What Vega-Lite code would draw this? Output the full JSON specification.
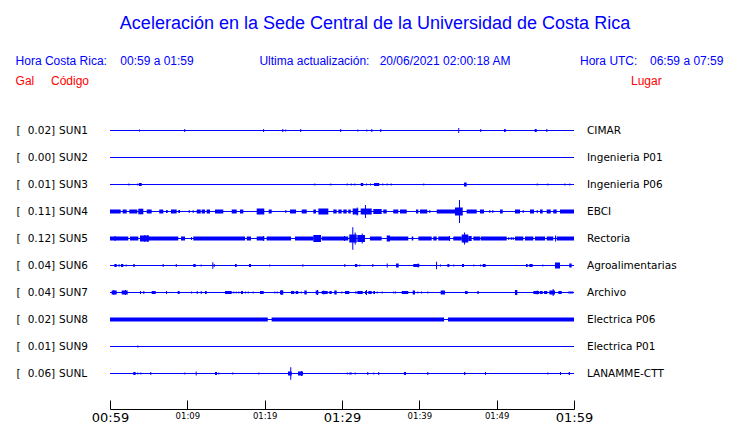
{
 "$schema": "https://vega.github.io/schema/vega-lite/v6.json",
 "width": 464,
 "height": 270,
 "autosize": {"type": "none"},
 "padding": {"left": 110, "top": 117, "right": 166, "bottom": 36},
 "title": {"text": "Aceleración en la Sede Central de la Universidad de Costa Rica", "font": "Liberation Sans", "fontSize": 18, "fontWeight": "normal", "color": "#0000ff", "anchor": "middle", "dx": 33, "offset": 22},
 "config": {"view": {"stroke": null}},
 "datasets": {
  "stations": [
   {"s": "SUN1", "gal": 0.02, "lugar": "CIMAR"},
   {"s": "SUN2", "gal": 0.00, "lugar": "Ingenieria P01"},
   {"s": "SUN3", "gal": 0.01, "lugar": "Ingenieria P06"},
   {"s": "SUN4", "gal": 0.11, "lugar": "EBCI"},
   {"s": "SUN5", "gal": 0.12, "lugar": "Rectoria"},
   {"s": "SUN6", "gal": 0.04, "lugar": "Agroalimentarias"},
   {"s": "SUN7", "gal": 0.04, "lugar": "Archivo"},
   {"s": "SUN8", "gal": 0.02, "lugar": "Electrica P06"},
   {"s": "SUN9", "gal": 0.01, "lugar": "Electrica P01"},
   {"s": "SUNL", "gal": 0.06, "lugar": "LANAMME-CTT"}
  ],
  "traces": [
   {"s":"SUN1","t0":3.75,"t1":3.88,"amp":0.01},
   {"s":"SUN1","t0":9.6,"t1":9.73,"amp":0.015},
   {"s":"SUN1","t0":19.8,"t1":19.93,"amp":0.015},
   {"s":"SUN1","t0":22.28,"t1":22.41,"amp":0.015},
   {"s":"SUN1","t0":22.65,"t1":22.78,"amp":0.01},
   {"s":"SUN1","t0":24.6,"t1":24.73,"amp":0.015},
   {"s":"SUN1","t0":29.77,"t1":29.9,"amp":0.015},
   {"s":"SUN1","t0":31.98,"t1":32.11,"amp":0.01},
   {"s":"SUN1","t0":33.14,"t1":33.27,"amp":0.01},
   {"s":"SUN1","t0":33.79,"t1":33.92,"amp":0.015},
   {"s":"SUN1","t0":34.95,"t1":35.08,"amp":0.015},
   {"s":"SUN1","t0":45.03,"t1":45.16,"amp":0.025},
   {"s":"SUN1","t0":47.88,"t1":48.01,"amp":0.015},
   {"s":"SUN1","t0":50.95,"t1":51.17,"amp":0.015},
   {"s":"SUN1","t0":54.92,"t1":55.18,"amp":0.015},
   {"s":"SUN1","t0":56.42,"t1":56.55,"amp":0.015},

   {"s":"SUN3","t0":2.37,"t1":2.5,"amp":0.01},
   {"s":"SUN3","t0":3.53,"t1":3.66,"amp":0.01},
   {"s":"SUN3","t0":3.75,"t1":4.1,"amp":0.015},
   {"s":"SUN3","t0":26.42,"t1":26.55,"amp":0.01},
   {"s":"SUN3","t0":28.49,"t1":28.62,"amp":0.01},
   {"s":"SUN3","t0":30.61,"t1":30.74,"amp":0.01},
   {"s":"SUN3","t0":31.13,"t1":31.26,"amp":0.01},
   {"s":"SUN3","t0":31.59,"t1":31.72,"amp":0.01},
   {"s":"SUN3","t0":32.42,"t1":32.75,"amp":0.015},
   {"s":"SUN3","t0":33.1,"t1":33.23,"amp":0.01},
   {"s":"SUN3","t0":33.62,"t1":33.75,"amp":0.01},
   {"s":"SUN3","t0":34.14,"t1":34.82,"amp":0.015},
   {"s":"SUN3","t0":35.21,"t1":35.34,"amp":0.01},
   {"s":"SUN3","t0":35.78,"t1":35.91,"amp":0.01},
   {"s":"SUN3","t0":36.3,"t1":36.43,"amp":0.01},
   {"s":"SUN3","t0":40.51,"t1":40.64,"amp":0.01},
   {"s":"SUN3","t0":45.78,"t1":46.12,"amp":0.02},
   {"s":"SUN3","t0":55.18,"t1":55.31,"amp":0.01},
   {"s":"SUN3","t0":56.55,"t1":56.68,"amp":0.01},
   {"s":"SUN3","t0":58.75,"t1":58.88,"amp":0.01},
   {"s":"SUN3","t0":59.39,"t1":59.52,"amp":0.01},

   {"s":"SUN4","t0":0,"t1":1.38,"amp":0.02},
   {"s":"SUN4","t0":1.64,"t1":2.16,"amp":0.02},
   {"s":"SUN4","t0":2.5,"t1":3.53,"amp":0.02},
   {"s":"SUN4","t0":3.66,"t1":4.31,"amp":0.028},
   {"s":"SUN4","t0":4.75,"t1":5.39,"amp":0.02},
   {"s":"SUN4","t0":6.37,"t1":6.89,"amp":0.02},
   {"s":"SUN4","t0":7.24,"t1":7.46,"amp":0.015},
   {"s":"SUN4","t0":7.89,"t1":8.62,"amp":0.02},
   {"s":"SUN4","t0":8.83,"t1":9.05,"amp":0.015},
   {"s":"SUN4","t0":10.18,"t1":10.31,"amp":0.015},
   {"s":"SUN4","t0":10.69,"t1":10.82,"amp":0.015},
   {"s":"SUN4","t0":11.21,"t1":11.73,"amp":0.02},
   {"s":"SUN4","t0":11.86,"t1":12.28,"amp":0.02},
   {"s":"SUN4","t0":12.5,"t1":12.93,"amp":0.02},
   {"s":"SUN4","t0":13.58,"t1":14.65,"amp":0.02},
   {"s":"SUN4","t0":15.74,"t1":16.38,"amp":0.02},
   {"s":"SUN4","t0":16.81,"t1":17.24,"amp":0.02},
   {"s":"SUN4","t0":18.97,"t1":19.95,"amp":0.03},
   {"s":"SUN4","t0":20.52,"t1":20.91,"amp":0.02},
   {"s":"SUN4","t0":22.67,"t1":22.8,"amp":0.015},
   {"s":"SUN4","t0":23.28,"t1":24.05,"amp":0.02},
   {"s":"SUN4","t0":24.79,"t1":25.44,"amp":0.02},
   {"s":"SUN4","t0":26.29,"t1":26.64,"amp":0.02},
   {"s":"SUN4","t0":26.94,"t1":28.23,"amp":0.03},
   {"s":"SUN4","t0":28.87,"t1":29.31,"amp":0.02},
   {"s":"SUN4","t0":29.52,"t1":29.96,"amp":0.02},
   {"s":"SUN4","t0":30.17,"t1":30.61,"amp":0.02},
   {"s":"SUN4","t0":30.81,"t1":31.13,"amp":0.02},
   {"s":"SUN4","t0":31.38,"t1":32.11,"amp":0.03},
   {"s":"SUN4","t0":31.9,"t1":32.03,"amp":0.04},
   {"s":"SUN4","t0":32.42,"t1":33.84,"amp":0.03},
   {"s":"SUN4","t0":32.97,"t1":33.1,"amp":0.065},
   {"s":"SUN4","t0":34.05,"t1":35.13,"amp":0.025},
   {"s":"SUN4","t0":35.34,"t1":35.78,"amp":0.02},
   {"s":"SUN4","t0":36.63,"t1":37.28,"amp":0.02},
   {"s":"SUN4","t0":37.5,"t1":38.37,"amp":0.02},
   {"s":"SUN4","t0":39.57,"t1":39.87,"amp":0.02},
   {"s":"SUN4","t0":40.09,"t1":41.03,"amp":0.02},
   {"s":"SUN4","t0":41.29,"t1":41.42,"amp":0.015},
   {"s":"SUN4","t0":42.25,"t1":44.61,"amp":0.02},
   {"s":"SUN4","t0":44.61,"t1":45.61,"amp":0.04},
   {"s":"SUN4","t0":45.13,"t1":45.26,"amp":0.115},
   {"s":"SUN4","t0":46.12,"t1":47.42,"amp":0.02},
   {"s":"SUN4","t0":47.84,"t1":48.36,"amp":0.02},
   {"s":"SUN4","t0":49.05,"t1":49.18,"amp":0.015},
   {"s":"SUN4","t0":49.44,"t1":49.57,"amp":0.015},
   {"s":"SUN4","t0":50.43,"t1":50.78,"amp":0.02},
   {"s":"SUN4","t0":52.37,"t1":53.02,"amp":0.02},
   {"s":"SUN4","t0":53.37,"t1":53.5,"amp":0.015},
   {"s":"SUN4","t0":54.31,"t1":54.83,"amp":0.02},
   {"s":"SUN4","t0":55.18,"t1":55.31,"amp":0.015},
   {"s":"SUN4","t0":55.6,"t1":55.95,"amp":0.02},
   {"s":"SUN4","t0":56.47,"t1":56.99,"amp":0.02},
   {"s":"SUN4","t0":57.32,"t1":57.76,"amp":0.02},
   {"s":"SUN4","t0":58.19,"t1":60,"amp":0.02},

   {"s":"SUN5","t0":0,"t1":2.37,"amp":0.02},
   {"s":"SUN5","t0":0.6,"t1":0.73,"amp":0.025},
   {"s":"SUN5","t0":2.59,"t1":3.66,"amp":0.02},
   {"s":"SUN5","t0":3.88,"t1":5.04,"amp":0.03},
   {"s":"SUN5","t0":4.44,"t1":4.57,"amp":0.035},
   {"s":"SUN5","t0":4.82,"t1":4.95,"amp":0.035},
   {"s":"SUN5","t0":5.04,"t1":8.83,"amp":0.02},
   {"s":"SUN5","t0":9.18,"t1":9.7,"amp":0.02},
   {"s":"SUN5","t0":10.47,"t1":10.6,"amp":0.015},
   {"s":"SUN5","t0":10.77,"t1":17.46,"amp":0.02},
   {"s":"SUN5","t0":17.68,"t1":18.23,"amp":0.02},
   {"s":"SUN5","t0":18.97,"t1":19.95,"amp":0.02},
   {"s":"SUN5","t0":19.8,"t1":19.93,"amp":0.025},
   {"s":"SUN5","t0":20.26,"t1":23.41,"amp":0.02},
   {"s":"SUN5","t0":23.92,"t1":26.29,"amp":0.02},
   {"s":"SUN5","t0":26.29,"t1":27.28,"amp":0.035},
   {"s":"SUN5","t0":27.37,"t1":30.81,"amp":0.02},
   {"s":"SUN5","t0":30.26,"t1":30.39,"amp":0.025},
   {"s":"SUN5","t0":30.94,"t1":31.9,"amp":0.04},
   {"s":"SUN5","t0":31.33,"t1":31.46,"amp":0.113},
   {"s":"SUN5","t0":31.64,"t1":31.77,"amp":0.06},
   {"s":"SUN5","t0":31.98,"t1":32.97,"amp":0.035},
   {"s":"SUN5","t0":32.55,"t1":32.68,"amp":0.05},
   {"s":"SUN5","t0":33.62,"t1":35.13,"amp":0.02},
   {"s":"SUN5","t0":35.78,"t1":36.21,"amp":0.03},
   {"s":"SUN5","t0":36.21,"t1":38.57,"amp":0.02},
   {"s":"SUN5","t0":39.01,"t1":39.22,"amp":0.02},
   {"s":"SUN5","t0":39.87,"t1":41.6,"amp":0.02},
   {"s":"SUN5","t0":41.81,"t1":42.25,"amp":0.02},
   {"s":"SUN5","t0":42.45,"t1":43.97,"amp":0.02},
   {"s":"SUN5","t0":43.84,"t1":43.97,"amp":0.025},
   {"s":"SUN5","t0":44.39,"t1":45.48,"amp":0.02},
   {"s":"SUN5","t0":45.48,"t1":46.33,"amp":0.04},
   {"s":"SUN5","t0":45.78,"t1":45.91,"amp":0.06},
   {"s":"SUN5","t0":46.33,"t1":46.77,"amp":0.025},
   {"s":"SUN5","t0":46.98,"t1":47.84,"amp":0.02},
   {"s":"SUN5","t0":47.93,"t1":51.3,"amp":0.02},
   {"s":"SUN5","t0":51.5,"t1":51.63,"amp":0.015},
   {"s":"SUN5","t0":51.82,"t1":51.95,"amp":0.015},
   {"s":"SUN5","t0":52.07,"t1":52.2,"amp":0.015},
   {"s":"SUN5","t0":52.37,"t1":53.45,"amp":0.02},
   {"s":"SUN5","t0":53.66,"t1":54.74,"amp":0.02},
   {"s":"SUN5","t0":54.96,"t1":56.25,"amp":0.02},
   {"s":"SUN5","t0":56.47,"t1":57.32,"amp":0.02},
   {"s":"SUN5","t0":57.54,"t1":57.67,"amp":0.03},
   {"s":"SUN5","t0":57.76,"t1":60,"amp":0.02},

   {"s":"SUN6","t0":0.56,"t1":0.87,"amp":0.015},
   {"s":"SUN6","t0":1.07,"t1":1.29,"amp":0.01},
   {"s":"SUN6","t0":1.42,"t1":1.72,"amp":0.015},
   {"s":"SUN6","t0":2.03,"t1":2.16,"amp":0.01},
   {"s":"SUN6","t0":3.01,"t1":3.19,"amp":0.015},
   {"s":"SUN6","t0":6.81,"t1":6.94,"amp":0.015},
   {"s":"SUN6","t0":8.5,"t1":8.63,"amp":0.015},
   {"s":"SUN6","t0":10.77,"t1":11.08,"amp":0.015},
   {"s":"SUN6","t0":11.73,"t1":11.86,"amp":0.01},
   {"s":"SUN6","t0":13.23,"t1":13.36,"amp":0.033},
   {"s":"SUN6","t0":13.41,"t1":13.54,"amp":0.015},
   {"s":"SUN6","t0":16.16,"t1":16.38,"amp":0.015},
   {"s":"SUN6","t0":17.97,"t1":18.23,"amp":0.015},
   {"s":"SUN6","t0":20.6,"t1":20.73,"amp":0.01},
   {"s":"SUN6","t0":24.87,"t1":25.0,"amp":0.012},
   {"s":"SUN6","t0":30.3,"t1":30.43,"amp":0.015},
   {"s":"SUN6","t0":31.68,"t1":31.98,"amp":0.015},
   {"s":"SUN6","t0":32.24,"t1":32.37,"amp":0.01},
   {"s":"SUN6","t0":33.92,"t1":34.05,"amp":0.015},
   {"s":"SUN6","t0":35.78,"t1":35.91,"amp":0.02},
   {"s":"SUN6","t0":36.98,"t1":37.33,"amp":0.02},
   {"s":"SUN6","t0":39.22,"t1":40.0,"amp":0.015},
   {"s":"SUN6","t0":39.79,"t1":39.92,"amp":0.02},
   {"s":"SUN6","t0":42.16,"t1":42.29,"amp":0.037},
   {"s":"SUN6","t0":42.67,"t1":42.8,"amp":0.01},
   {"s":"SUN6","t0":43.62,"t1":43.88,"amp":0.015},
   {"s":"SUN6","t0":44.39,"t1":44.52,"amp":0.01},
   {"s":"SUN6","t0":45.52,"t1":45.78,"amp":0.015},
   {"s":"SUN6","t0":46.98,"t1":47.11,"amp":0.01},
   {"s":"SUN6","t0":47.84,"t1":47.97,"amp":0.01},
   {"s":"SUN6","t0":48.19,"t1":48.58,"amp":0.015},
   {"s":"SUN6","t0":53.79,"t1":54.01,"amp":0.015},
   {"s":"SUN6","t0":54.22,"t1":54.66,"amp":0.015},
   {"s":"SUN6","t0":55.9,"t1":56.03,"amp":0.01},
   {"s":"SUN6","t0":57.54,"t1":58.19,"amp":0.03},
   {"s":"SUN6","t0":59.39,"t1":59.7,"amp":0.02},

   {"s":"SUN7","t0":0.22,"t1":0.87,"amp":0.02},
   {"s":"SUN7","t0":0.43,"t1":0.56,"amp":0.025},
   {"s":"SUN7","t0":1.51,"t1":2.29,"amp":0.02},
   {"s":"SUN7","t0":1.94,"t1":2.07,"amp":0.025},
   {"s":"SUN7","t0":3.88,"t1":4.01,"amp":0.015},
   {"s":"SUN7","t0":4.31,"t1":4.44,"amp":0.015},
   {"s":"SUN7","t0":5.39,"t1":5.91,"amp":0.015},
   {"s":"SUN7","t0":7.24,"t1":7.37,"amp":0.015},
   {"s":"SUN7","t0":8.75,"t1":9.01,"amp":0.015},
   {"s":"SUN7","t0":10.47,"t1":10.6,"amp":0.01},
   {"s":"SUN7","t0":11.21,"t1":11.34,"amp":0.015},
   {"s":"SUN7","t0":11.73,"t1":11.86,"amp":0.015},
   {"s":"SUN7","t0":12.28,"t1":12.5,"amp":0.015},
   {"s":"SUN7","t0":14.87,"t1":15.74,"amp":0.015},
   {"s":"SUN7","t0":15.94,"t1":16.07,"amp":0.01},
   {"s":"SUN7","t0":16.25,"t1":16.38,"amp":0.01},
   {"s":"SUN7","t0":16.59,"t1":16.72,"amp":0.01},
   {"s":"SUN7","t0":16.94,"t1":17.2,"amp":0.015},
   {"s":"SUN7","t0":17.46,"t1":17.59,"amp":0.01},
   {"s":"SUN7","t0":17.81,"t1":17.94,"amp":0.01},
   {"s":"SUN7","t0":18.45,"t1":18.58,"amp":0.01},
   {"s":"SUN7","t0":19.4,"t1":19.88,"amp":0.015},
   {"s":"SUN7","t0":21.25,"t1":21.38,"amp":0.01},
   {"s":"SUN7","t0":21.56,"t1":21.69,"amp":0.01},
   {"s":"SUN7","t0":21.98,"t1":22.41,"amp":0.02},
   {"s":"SUN7","t0":22.15,"t1":22.28,"amp":0.025},
   {"s":"SUN7","t0":23.41,"t1":23.83,"amp":0.015},
   {"s":"SUN7","t0":24.01,"t1":24.35,"amp":0.015},
   {"s":"SUN7","t0":24.66,"t1":24.79,"amp":0.01},
   {"s":"SUN7","t0":25.13,"t1":25.44,"amp":0.02},
   {"s":"SUN7","t0":26.6,"t1":26.94,"amp":0.02},
   {"s":"SUN7","t0":26.77,"t1":26.9,"amp":0.025},
   {"s":"SUN7","t0":27.37,"t1":28.15,"amp":0.015},
   {"s":"SUN7","t0":27.58,"t1":27.71,"amp":0.02},
   {"s":"SUN7","t0":28.36,"t1":28.67,"amp":0.015},
   {"s":"SUN7","t0":29.0,"t1":29.31,"amp":0.02},
   {"s":"SUN7","t0":29.91,"t1":30.04,"amp":0.01},
   {"s":"SUN7","t0":30.39,"t1":30.94,"amp":0.015},
   {"s":"SUN7","t0":31.68,"t1":31.9,"amp":0.01},
   {"s":"SUN7","t0":31.98,"t1":32.68,"amp":0.015},
   {"s":"SUN7","t0":32.97,"t1":33.19,"amp":0.015},
   {"s":"SUN7","t0":33.1,"t1":33.23,"amp":0.025},
   {"s":"SUN7","t0":33.4,"t1":33.84,"amp":0.015},
   {"s":"SUN7","t0":34.05,"t1":34.27,"amp":0.015},
   {"s":"SUN7","t0":34.49,"t1":34.62,"amp":0.01},
   {"s":"SUN7","t0":35.13,"t1":35.26,"amp":0.01},
   {"s":"SUN7","t0":36.63,"t1":36.76,"amp":0.01},
   {"s":"SUN7","t0":36.85,"t1":36.98,"amp":0.01},
   {"s":"SUN7","t0":37.72,"t1":38.57,"amp":0.015},
   {"s":"SUN7","t0":39.14,"t1":39.44,"amp":0.02},
   {"s":"SUN7","t0":39.74,"t1":39.87,"amp":0.01},
   {"s":"SUN7","t0":40.22,"t1":40.35,"amp":0.01},
   {"s":"SUN7","t0":41.03,"t1":41.16,"amp":0.01},
   {"s":"SUN7","t0":42.76,"t1":43.32,"amp":0.02},
   {"s":"SUN7","t0":45.91,"t1":46.25,"amp":0.015},
   {"s":"SUN7","t0":47.5,"t1":47.68,"amp":0.015},
   {"s":"SUN7","t0":52.37,"t1":52.67,"amp":0.025},
   {"s":"SUN7","t0":54.74,"t1":55.51,"amp":0.015},
   {"s":"SUN7","t0":55.18,"t1":55.31,"amp":0.02},
   {"s":"SUN7","t0":55.6,"t1":55.95,"amp":0.015},
   {"s":"SUN7","t0":56.12,"t1":56.55,"amp":0.015},
   {"s":"SUN7","t0":56.81,"t1":57.54,"amp":0.02},
   {"s":"SUN7","t0":57.24,"t1":57.37,"amp":0.035},
   {"s":"SUN7","t0":57.97,"t1":58.41,"amp":0.015},
   {"s":"SUN7","t0":59.26,"t1":59.91,"amp":0.01},

   {"s":"SUN8","t0":0,"t1":20.4,"amp":0.02},
   {"s":"SUN8","t0":20.9,"t1":43.2,"amp":0.02},
   {"s":"SUN8","t0":43.7,"t1":60,"amp":0.02},

   {"s":"SUN9","t0":3.53,"t1":3.66,"amp":0.01},

   {"s":"SUNL","t0":3.01,"t1":3.32,"amp":0.015},
   {"s":"SUNL","t0":3.53,"t1":3.66,"amp":0.01},
   {"s":"SUNL","t0":3.92,"t1":4.05,"amp":0.01},
   {"s":"SUNL","t0":5.21,"t1":5.34,"amp":0.015},
   {"s":"SUNL","t0":9.61,"t1":9.74,"amp":0.01},
   {"s":"SUNL","t0":11.08,"t1":11.21,"amp":0.02},
   {"s":"SUNL","t0":13.58,"t1":13.84,"amp":0.015},
   {"s":"SUNL","t0":14.0,"t1":14.13,"amp":0.01},
   {"s":"SUNL","t0":15.81,"t1":15.94,"amp":0.01},
   {"s":"SUNL","t0":19.18,"t1":19.31,"amp":0.01},
   {"s":"SUNL","t0":23.02,"t1":23.5,"amp":0.02},
   {"s":"SUNL","t0":23.31,"t1":23.44,"amp":0.063},
   {"s":"SUNL","t0":24.31,"t1":24.96,"amp":0.02},
   {"s":"SUNL","t0":24.7,"t1":24.83,"amp":0.025},
   {"s":"SUNL","t0":30.61,"t1":30.74,"amp":0.01},
   {"s":"SUNL","t0":30.94,"t1":31.26,"amp":0.01},
   {"s":"SUNL","t0":31.64,"t1":31.77,"amp":0.01},
   {"s":"SUNL","t0":33.27,"t1":33.4,"amp":0.015},
   {"s":"SUNL","t0":34.05,"t1":34.18,"amp":0.01},
   {"s":"SUNL","t0":34.69,"t1":34.82,"amp":0.015},
   {"s":"SUNL","t0":38.02,"t1":38.28,"amp":0.015},
   {"s":"SUNL","t0":41.03,"t1":41.16,"amp":0.015},
   {"s":"SUNL","t0":45.78,"t1":45.94,"amp":0.015},
   {"s":"SUNL","t0":48.49,"t1":48.62,"amp":0.015},
   {"s":"SUNL","t0":56.55,"t1":56.68,"amp":0.01},
   {"s":"SUNL","t0":58.19,"t1":58.32,"amp":0.015},
   {"s":"SUNL","t0":59.31,"t1":59.48,"amp":0.015}
  ]
 },
 "layer": [
  {
   "data": {"name": "traces"},
   "mark": {"type": "bar", "color": "#0000ff"},
   "encoding": {
    "x": {"field": "t0", "type": "quantitative",
     "scale": {"domain": [0, 60], "nice": false, "zero": false},
     "axis": {"title": null, "values": [0,5,10,15,20,25,30,35,40,45,50,55,60], "grid": false, "offset": 22,
      "tickSize": -9, "tickColor": "#000000", "domainColor": "#000000", "tickWidth": 1, "domainWidth": 1,
      "labelFont": "DejaVu Sans", "labelColor": "#000000",
      "labelFontSize": {"condition": {"test": "datum.value % 30 === 0", "value": 13}, "value": 8.5},
      "labelExpr": "datum.value % 10 === 0 ? ('0' + floor((59 + datum.value) / 60) + ':' + ((59 + datum.value) % 60 < 10 ? '0' : '') + ((59 + datum.value) % 60)) : ''",
      "labelFlush": false, "labelOverlap": false, "labelBound": false, "labelPadding": 11, "labelBaseline": "top"}},
    "x2": {"field": "t1"},
    "y": {"field": "s", "type": "nominal",
     "scale": {"domain": ["SUN1","SUN2","SUN3","SUN4","SUN5","SUN6","SUN7","SUN8","SUN9","SUNL"], "paddingInner": 0, "paddingOuter": 0},
     "axis": null},
    "size": {"field": "amp", "type": "quantitative", "scale": {"domain": [0, 0.12], "range": [0, 24]}, "legend": null}
   }
  },
  {
   "data": {"name": "stations"},
   "mark": {"type": "rule", "color": "#0000ff", "strokeWidth": 1},
   "encoding": {"x": {"datum": 0, "type": "quantitative"}, "x2": {"datum": 60}, "y": {"field": "s", "type": "nominal"}}
  },
  {
   "data": {"name": "stations"},
   "mark": {"type": "text", "text": "[", "align": "left", "baseline": "middle", "font": "DejaVu Sans", "fontSize": 10.5, "color": "#000000"},
   "encoding": {"x": {"datum": -12.09, "type": "quantitative"}, "y": {"field": "s", "type": "nominal"}}
  },
  {
   "data": {"name": "stations"},
   "mark": {"type": "text", "align": "right", "baseline": "middle", "font": "DejaVu Sans", "fontSize": 10.5, "color": "#000000"},
   "encoding": {"x": {"datum": -7.62, "type": "quantitative"}, "y": {"field": "s", "type": "nominal"}, "text": {"field": "gal", "type": "quantitative", "format": ".2f"}}
  },
  {
   "data": {"name": "stations"},
   "mark": {"type": "text", "text": "]", "align": "left", "baseline": "middle", "font": "DejaVu Sans", "fontSize": 10.5, "color": "#000000"},
   "encoding": {"x": {"datum": -7.62, "type": "quantitative"}, "y": {"field": "s", "type": "nominal"}}
  },
  {
   "data": {"name": "stations"},
   "mark": {"type": "text", "align": "left", "baseline": "middle", "font": "DejaVu Sans", "fontSize": 10.5, "color": "#000000"},
   "encoding": {"x": {"datum": -6.59, "type": "quantitative"}, "y": {"field": "s", "type": "nominal"}, "text": {"field": "s", "type": "nominal"}}
  },
  {
   "data": {"name": "stations"},
   "mark": {"type": "text", "align": "left", "baseline": "middle", "font": "DejaVu Sans", "fontSize": 10.5, "color": "#000000"},
   "encoding": {"x": {"datum": 61.68, "type": "quantitative"}, "y": {"field": "s", "type": "nominal"}, "text": {"field": "lugar", "type": "nominal"}}
  },
  {
   "data": {"values": [{}]},
   "mark": {"type": "text", "text": "Hora Costa Rica:", "align": "left", "baseline": "middle", "font": "Liberation Sans", "fontSize": 12, "color": "#0000ff", "dy": -70},
   "encoding": {"x": {"datum": -12.21, "type": "quantitative"}, "y": {"datum": "SUN1", "type": "nominal"}}
  },
  {
   "data": {"values": [{}]},
   "mark": {"type": "text", "text": "00:59 a 01:59", "align": "left", "baseline": "middle", "font": "Liberation Sans", "fontSize": 12, "color": "#0000ff", "dy": -70},
   "encoding": {"x": {"datum": 1.33, "type": "quantitative"}, "y": {"datum": "SUN1", "type": "nominal"}}
  },
  {
   "data": {"values": [{}]},
   "mark": {"type": "text", "text": "Ultima actualización:", "align": "left", "baseline": "middle", "font": "Liberation Sans", "fontSize": 12, "color": "#0000ff", "dy": -70},
   "encoding": {"x": {"datum": 19.32, "type": "quantitative"}, "y": {"datum": "SUN1", "type": "nominal"}}
  },
  {
   "data": {"values": [{}]},
   "mark": {"type": "text", "text": "20/06/2021 02:00:18 AM", "align": "left", "baseline": "middle", "font": "Liberation Sans", "fontSize": 12, "color": "#0000ff", "dy": -70},
   "encoding": {"x": {"datum": 34.87, "type": "quantitative"}, "y": {"datum": "SUN1", "type": "nominal"}}
  },
  {
   "data": {"values": [{}]},
   "mark": {"type": "text", "text": "Hora UTC:", "align": "left", "baseline": "middle", "font": "Liberation Sans", "fontSize": 12, "color": "#0000ff", "dy": -70},
   "encoding": {"x": {"datum": 60.78, "type": "quantitative"}, "y": {"datum": "SUN1", "type": "nominal"}}
  },
  {
   "data": {"values": [{}]},
   "mark": {"type": "text", "text": "06:59 a 07:59", "align": "left", "baseline": "middle", "font": "Liberation Sans", "fontSize": 12, "color": "#0000ff", "dy": -70},
   "encoding": {"x": {"datum": 69.83, "type": "quantitative"}, "y": {"datum": "SUN1", "type": "nominal"}}
  },
  {
   "data": {"values": [{}]},
   "mark": {"type": "text", "text": "Gal", "align": "left", "baseline": "middle", "font": "Liberation Sans", "fontSize": 12, "color": "#ff0000", "dy": -50},
   "encoding": {"x": {"datum": -12.21, "type": "quantitative"}, "y": {"datum": "SUN1", "type": "nominal"}}
  },
  {
   "data": {"values": [{}]},
   "mark": {"type": "text", "text": "Código", "align": "left", "baseline": "middle", "font": "Liberation Sans", "fontSize": 12, "color": "#ff0000", "dy": -50},
   "encoding": {"x": {"datum": -7.63, "type": "quantitative"}, "y": {"datum": "SUN1", "type": "nominal"}}
  },
  {
   "data": {"values": [{}]},
   "mark": {"type": "text", "text": "Lugar", "align": "left", "baseline": "middle", "font": "Liberation Sans", "fontSize": 12, "color": "#ff0000", "dy": -50},
   "encoding": {"x": {"datum": 67.37, "type": "quantitative"}, "y": {"datum": "SUN1", "type": "nominal"}}
  }
 ]
}
